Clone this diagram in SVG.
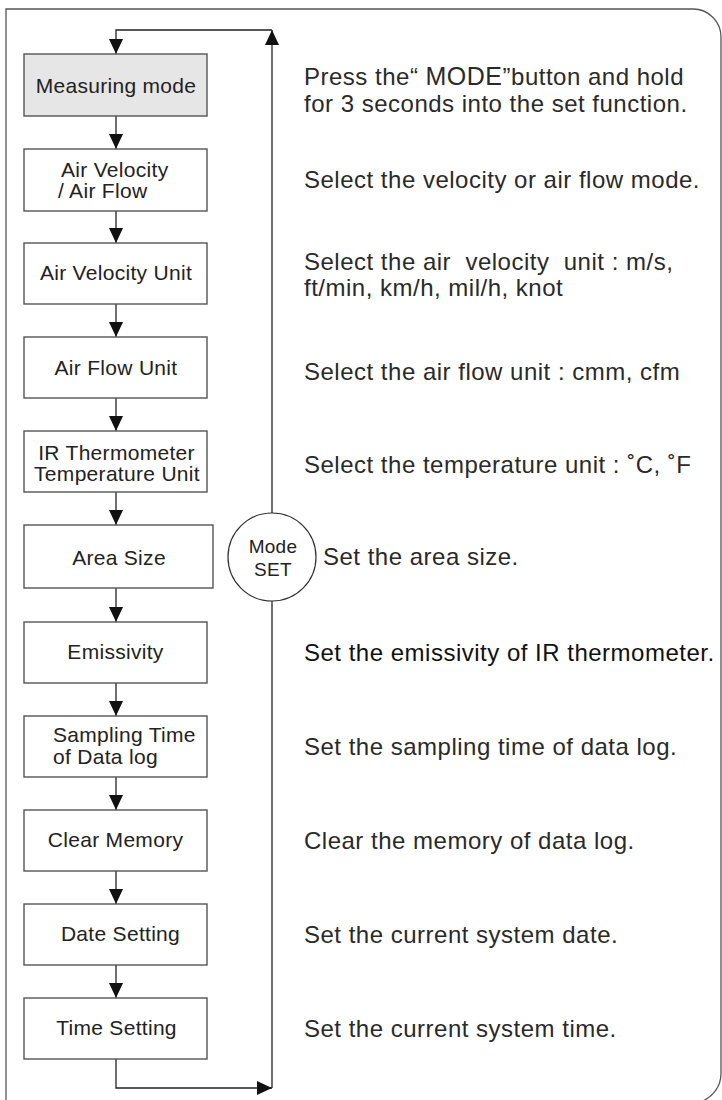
<svg xmlns="http://www.w3.org/2000/svg" width="722" height="1100" viewBox="0 0 722 1100">
<style>
.frame{fill:none;stroke:#555;stroke-width:1.3}
.box{fill:#fff;stroke:#555;stroke-width:1.4}
.bt{font-family:"Liberation Sans",Arial,sans-serif;font-size:21px;fill:#222;letter-spacing:0.3px}
.rt{font-family:"Liberation Sans",Arial,sans-serif;font-size:24px;fill:#2a2a2a;letter-spacing:0.5px}
.con{fill:none;stroke:#222;stroke-width:1.3}
</style>
<defs>
<marker id="arr" viewBox="0 0 15 14" refX="15" refY="7" markerWidth="15" markerHeight="14" markerUnits="userSpaceOnUse" orient="auto">
<path d="M0,0 L15,7 L0,14 Z" fill="#111"/>
</marker>
</defs>
<rect width="722" height="1100" fill="#fff"/>
<path class="frame" d="M6,1100 V9 H693 A28,28 0 0 1 721,37 V1073 A30,30 0 0 1 700,1102"/>
<g id="connectors">
<path class="con" d="M116,116 V149" marker-end="url(#arr)"/>
<path class="con" d="M116,211 V243" marker-end="url(#arr)"/>
<path class="con" d="M116,304 V337" marker-end="url(#arr)"/>
<path class="con" d="M116,398 V431" marker-end="url(#arr)"/>
<path class="con" d="M116,492 V525" marker-end="url(#arr)"/>
<path class="con" d="M116,588 V622" marker-end="url(#arr)"/>
<path class="con" d="M116,683 V716" marker-end="url(#arr)"/>
<path class="con" d="M116,777 V810" marker-end="url(#arr)"/>
<path class="con" d="M116,871 V904" marker-end="url(#arr)"/>
<path class="con" d="M116,965 V998" marker-end="url(#arr)"/>
<path class="con" d="M116,1059 V1088 H272" marker-end="url(#arr)"/>
<path class="con" d="M272,1088 V30" marker-end="url(#arr)"/>
<path class="con" d="M272,30 H116 V54" marker-end="url(#arr)"/>
</g>
<g id="n-measuring"><rect class="box" x="24" y="54" width="183" height="62" style="fill:#e6e6e6"/><text class="bt" x="116" y="92.5" text-anchor="middle">Measuring mode</text></g>
<g id="n-airvel"><rect class="box" x="24" y="149" width="183" height="62"/><text class="bt" x="61" y="177">Air Velocity</text><text class="bt" x="58" y="198">/ Air Flow</text></g>
<g id="n-avu"><rect class="box" x="24" y="243" width="183" height="61"/><text class="bt" x="116" y="280" text-anchor="middle">Air Velocity Unit</text></g>
<g id="n-afu"><rect class="box" x="24" y="337" width="183" height="61"/><text class="bt" x="116" y="375" text-anchor="middle">Air Flow Unit</text></g>
<g id="n-ir"><rect class="box" x="24" y="431" width="183" height="61"/><text class="bt" x="116.5" y="460" text-anchor="middle">IR Thermometer</text><text class="bt" x="117" y="481" text-anchor="middle">Temperature Unit</text></g>
<g id="n-area"><rect class="box" x="24" y="525" width="189" height="63"/><text class="bt" x="119" y="565" text-anchor="middle">Area Size</text></g>
<g id="n-emis"><rect class="box" x="24" y="622" width="183" height="61"/><text class="bt" x="115.5" y="659" text-anchor="middle">Emissivity</text></g>
<g id="n-sampling"><rect class="box" x="24" y="716" width="183" height="61"/><text class="bt" x="53" y="742">Sampling Time</text><text class="bt" x="53" y="764">of Data log</text></g>
<g id="n-clear"><rect class="box" x="24" y="810" width="183" height="61"/><text class="bt" x="115.5" y="847" text-anchor="middle">Clear Memory</text></g>
<g id="n-date"><rect class="box" x="24" y="904" width="183" height="61"/><text class="bt" x="120.5" y="941" text-anchor="middle">Date Setting</text></g>
<g id="n-time"><rect class="box" x="24" y="998" width="183" height="61"/><text class="bt" x="116.5" y="1035" text-anchor="middle">Time Setting</text></g>
<g id="n-modeset"><circle cx="272" cy="557" r="44" fill="#fff" stroke="#333" stroke-width="1.2"/><text class="bt" x="273" y="553" text-anchor="middle" style="font-size:19px">Mode</text><text class="bt" x="273" y="576" text-anchor="middle" style="font-size:19px">SET</text></g>
<g id="descriptions">
<text class="rt" x="304" y="85">Press the“ <tspan style="font-size:25px">MODE</tspan>”button and hold</text>
<text class="rt" x="304" y="112">for 3 seconds into the set function.</text>
<text class="rt" x="304" y="188">Select the velocity or air flow mode.</text>
<text class="rt" x="304" y="270" xml:space="preserve">Select the air  velocity  unit : m/s,</text>
<text class="rt" x="304" y="296">ft/min, km/h, mil/h, knot</text>
<text class="rt" x="304" y="380">Select the air flow unit : cmm, cfm</text>
<text class="rt" x="304" y="473">Select the temperature unit : ˚C, ˚F</text>
<text class="rt" x="323" y="565">Set the area size.</text>
<text class="rt" x="304" y="661" style="fill:#111">Set the emissivity of IR thermometer.</text>
<text class="rt" x="304" y="755">Set the sampling time of data log.</text>
<text class="rt" x="304" y="849">Clear the memory of data log.</text>
<text class="rt" x="304" y="943">Set the current system date.</text>
<text class="rt" x="304" y="1037">Set the current system time.</text>
</g>
</svg>
